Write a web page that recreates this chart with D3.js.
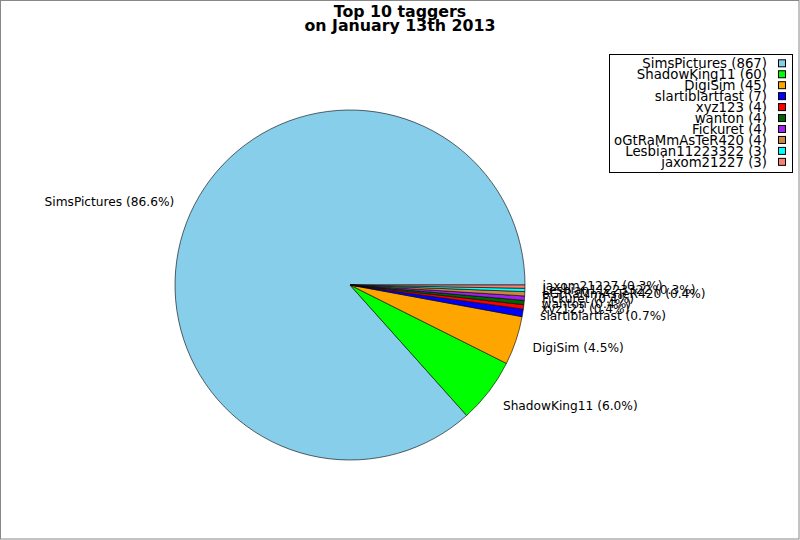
<!DOCTYPE html>
<html><head><meta charset="utf-8">
<script src="https://cdn.jsdelivr.net/npm/d3@7"></script>
<style>body{margin:0;background:#fff}svg{display:block}</style>
</head><body>
<script>
const names = ["SimsPictures","ShadowKing11","DigiSim","slartiblartfast","xyz123","wanton","Fickuret","oGtRaMmAsTeR420","Lesbian11223322","jaxom21227"];
const counts = [867,60,45,7,4,4,4,4,3,3];
const colors = ["#87ceeb","#00ff00","#ffa500","#0000ff","#ff0000","#006400","#a020f0","#cd853f","#00ffff","#fa8072"];
const titleLines = ["Top 10 taggers","on January 13th 2013"];

const W=800,H=540,cx=350,cy=285,R=175;
const svg=d3.select("body").append("svg").attr("width",W).attr("height",H);
svg.append("rect").attr("x",0.5).attr("y",0.5).attr("width",W-1.5).attr("height",H-1.5)
  .attr("fill","#fff").attr("stroke","#888");

const font="DejaVu Sans";
svg.append("text").attr("x",400).attr("y",0).attr("text-anchor","middle")
  .attr("font-family",font).attr("font-weight","bold").attr("font-size",15.8)
  .selectAll("tspan").data(titleLines).join("tspan")
  .attr("x",400).attr("y",(d,i)=>16.5+i*14).text(d=>d);

const data=names.map((n,i)=>({name:n,value:counts[i],color:colors[i]}));
const total=d3.sum(counts);
const pie=d3.pie().value(d=>d.value).sort(null)
  .startAngle(Math.PI/2).endAngle(Math.PI/2-2*Math.PI);
const arcs=pie(data);
const arc=d3.arc().innerRadius(0).outerRadius(R);
const g=svg.append("g").attr("transform",`translate(${cx},${cy})`);
g.selectAll("path").data(arcs).join("path").attr("d",arc)
  .attr("fill",d=>d.data.color).attr("stroke","#000").attr("stroke-width",0.6);

const lr=R*1.1, fs=12.2, boxH=12, asc=9;
const P=Math.PI;
function offsets(a){
  let dx=0,dy=0;
  if(a>=7*P/4||a<=P/4) dx=0;
  if(a>=P/4&&a<=3*P/4) dx=(a-P/4)*2/P;
  if(a>=3*P/4&&a<=5*P/4) dx=1;
  if(a>=5*P/4&&a<=7*P/4) dx=1-(a-5*P/4)*2/P;
  if(a>=7*P/4) dy=(a-7*P/4)*2/P;
  if(a<=P/4) dy=0.5+a*2/P;
  if(a>=P/4&&a<=3*P/4) dy=1;
  if(a>=3*P/4&&a<=5*P/4) dy=1-(a-3*P/4)*2/P;
  if(a>=5*P/4&&a<=7*P/4) dy=0;
  return [dx,dy];
}
g.selectAll("text.lab").data(arcs).join("text").attr("class","lab")
  .attr("font-family",font).attr("font-size",fs).attr("fill","#000")
  .text(d=>`${d.data.name} (${(d.data.value/total*100).toFixed(1)}%)`)
  .each(function(d){
    const ad=(d.startAngle+d.endAngle)/2;
    const x=lr*Math.sin(ad), y=-lr*Math.cos(ad);
    let a=P/2-ad; a=((a%(2*P))+2*P)%(2*P);
    const [dx,dy]=offsets(a);
    const w=this.getComputedTextLength();
    d3.select(this).attr("x",x-dx*w).attr("y",y-dy*boxH+asc);
  });

const lg=svg.append("g");
lg.append("rect").attr("x",609.5).attr("y",54.5).attr("width",183).attr("height",118)
  .attr("fill","#fff").attr("stroke","#000");
const rowH=10.95, y0=63.3;
lg.selectAll("text").data(data).join("text")
  .attr("x",767).attr("y",(d,i)=>y0+i*rowH).attr("dy","0.35em")
  .attr("text-anchor","end").attr("font-family",font).attr("font-size",13.3)
  .text(d=>`${d.name} (${d.value})`);
lg.selectAll("rect.sw").data(data).join("rect").attr("class","sw")
  .attr("x",778.5).attr("y",(d,i)=>y0+i*rowH-3.5).attr("width",7).attr("height",7)
  .attr("fill",d=>d.color).attr("stroke","#000");
</script>
</body></html>
